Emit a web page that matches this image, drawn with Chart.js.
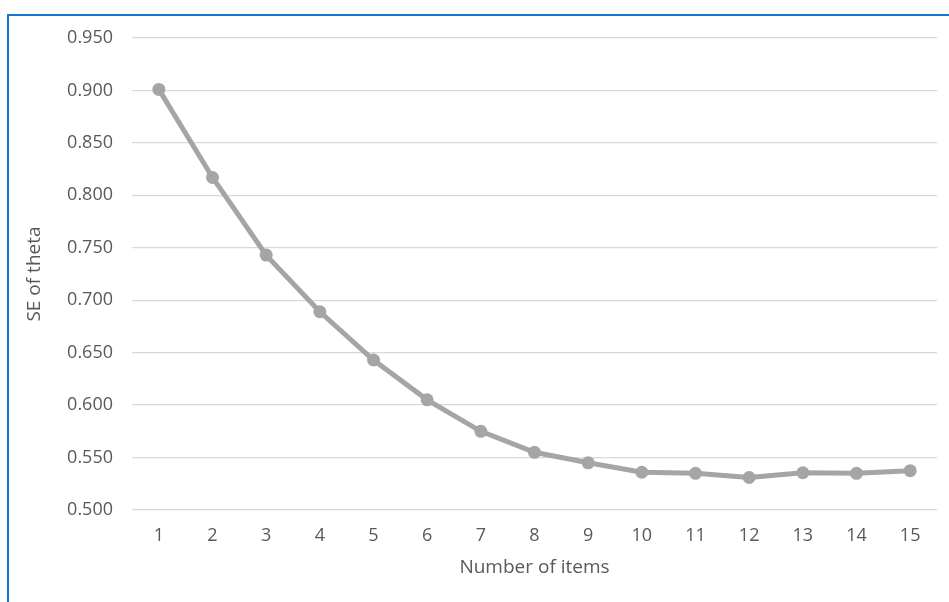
<!DOCTYPE html>
<html lang="en">
<head>
  <meta charset="UTF-8">
  <title>SE of theta</title>
  <script src="https://cdn.jsdelivr.net/npm/chart.js"></script>
  <style>
    body { margin: 0; background: #fff; }
    #frame {
      position: absolute; left: 7px; top: 14px;
      width: 940px; height: 586px;
      border-top: 2px solid #1675cc; border-left: 2px solid #1675cc;
    }
    canvas { display: block; }
  </style>
</head>
<body>
  <div id="frame"><canvas id="seChart" width="940" height="586"></canvas></div>

  <script>
    // values
    const items = ['1', '2', '3', '4', '5', '6', '7', '8', '9', '10', '11', '12', '13', '14', '15'];
    const seTheta = [0.901, 0.817, 0.743, 0.689, 0.643, 0.605, 0.575, 0.555, 0.545, 0.536, 0.535, 0.531, 0.5355, 0.535, 0.5375];
    const yTicks = [0.500, 0.550, 0.600, 0.650, 0.700, 0.750, 0.800, 0.850, 0.900, 0.950];

    const textColor = '#595959';
    const tickFont = { family: 'Open Sans', size: 18 };
    const titleFont = { family: 'Open Sans', size: 19 };

    const ctx = document.getElementById('seChart').getContext('2d');
    new Chart(ctx, {
      type: 'line',
      data: {
        labels: items,
        datasets: [{
          label: 'SE of theta',
          data: seTheta,
          borderColor: '#a5a5a5',
          backgroundColor: '#a5a5a5',
          borderWidth: 5,
          pointRadius: 6.5,
          pointBorderWidth: 0,
          tension: 0,
          fill: false
        }]
      },
      options: {
        responsive: false,
        animation: false,
        layout: { padding: { top: 22, right: 12, bottom: 23, left: 0 } },
        plugins: { legend: { display: false }, tooltip: { enabled: false } },
        scales: {
          x: {
            offset: true,
            afterFit: (scale) => { scale.height = 69; },
            grid: { display: false, drawTicks: false },
            border: { display: false },
            ticks: { color: textColor, font: tickFont, padding: 15, maxRotation: 0 },
            title: { display: true, text: 'Number of items', color: textColor, font: titleFont, padding: 0 }
          },
          y: {
            min: 0.5,
            max: 0.95,
            afterFit: (scale) => {
              scale.width = 123;
              scale.paddingTop = 0;
              scale.paddingBottom = 0;
            },
            afterBuildTicks: (scale) => { scale.ticks = yTicks.map(v => ({ value: v })); },
            grid: { color: '#d9d9d9', lineWidth: 1.3, drawTicks: false },
            border: { display: false },
            ticks: {
              color: textColor, font: tickFont, padding: 19,
              callback: (v) => Number(v).toFixed(3)
            },
            title: { display: true, text: 'SE of theta', color: textColor, font: titleFont, padding: { top: 14, bottom: 0 } }
          }
        }
      }
    });
  </script>
</body>
</html>
